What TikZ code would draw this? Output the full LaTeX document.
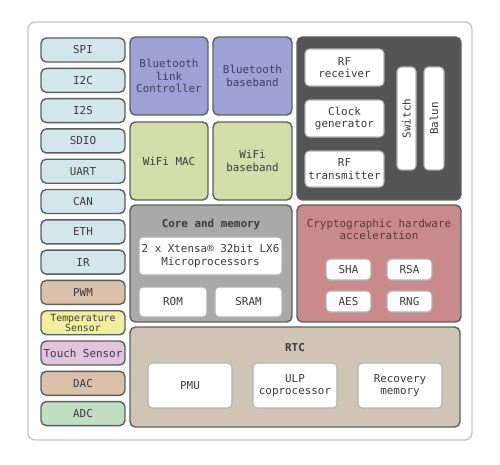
\documentclass[tikz,border=0pt]{standalone}
\usepackage{fontspec}
\setmonofont{DejaVu Sans Mono}
\definecolor{ifblue}{HTML}{D3E6EC}
\definecolor{iftan}{HTML}{DCC1AA}
\definecolor{ifyellow}{HTML}{F2EE9E}
\definecolor{ifpink}{HTML}{E2C4DE}
\definecolor{ifgreen}{HTML}{C0DEC2}
\definecolor{btblue}{HTML}{9DA1D4}
\definecolor{wifigreen}{HTML}{D3DDA9}
\definecolor{rfgray}{HTML}{555555}
\definecolor{coregray}{HTML}{A9A9A9}
\definecolor{cryptored}{HTML}{C98A8C}
\definecolor{cryptoink}{HTML}{5E3535}
\definecolor{btink}{HTML}{3A3F66}
\definecolor{rtctan}{HTML}{D0C4B5}
\definecolor{edge}{HTML}{5A5F60}
\definecolor{ink}{HTML}{3A3A3A}
\begin{document}
\begin{tikzpicture}[
    x=0.02cm, y=-0.02cm,
    font=\ttfamily\fontsize{6.2}{7}\selectfont,
    every node/.style={text=ink, align=center, inner sep=0pt},
    block/.style={draw=edge, line width=0.8pt, rounded corners=3pt},
    iface/.style={block, minimum width=1.68cm, minimum height=0.48cm},
    unit/.style={draw=gray!60, line width=0.6pt, fill=white, rounded corners=2.5pt}
]

% Background and chip frame
\useasboundingbox[fill=white] (0,0) rectangle (500,464);
\draw[draw=gray!45, line width=0.8pt, rounded corners=4pt, fill=white] (28,22) rectangle (472,440);

% Peripheral interfaces (left column)
\node[iface, fill=ifblue] (spi) at (83,50) {SPI};
\node[iface, fill=ifblue] (i2c) at (83,80.3) {I2C};
\node[iface, fill=ifblue] (i2s) at (83,110.6) {I2S};
\node[iface, fill=ifblue] (sdio) at (83,140.9) {SDIO};
\node[iface, fill=ifblue] (uart) at (83,171.2) {UART};
\node[iface, fill=ifblue] (can) at (83,201.5) {CAN};
\node[iface, fill=ifblue] (eth) at (83,231.8) {ETH};
\node[iface, fill=ifblue] (ir) at (83,262.1) {IR};
\node[iface, fill=iftan] (pwm) at (83,292.4) {PWM};
\node[iface, fill=ifyellow, font=\ttfamily\fontsize{5.6}{5.8}\selectfont] (temp) at (83,322.7) {Temperature\\Sensor};
\node[iface, fill=ifpink] (touch) at (83,353) {Touch Sensor};
\node[iface, fill=iftan] (dac) at (83,383.3) {DAC};
\node[iface, fill=ifgreen] (adc) at (83,413.6) {ADC};

% Bluetooth and WiFi
\node[block, fill=btblue, text=btink, minimum width=1.56cm, minimum height=1.56cm] (btlink) at (169,76) {Bluetooth\\link\\Controller};
\node[block, fill=btblue, text=btink, minimum width=1.58cm, minimum height=1.56cm] (btbase) at (252.5,76) {Bluetooth\\baseband};
\node[block, fill=wifigreen, minimum width=1.56cm, minimum height=1.56cm] (wifimac) at (169,161) {WiFi MAC};
\node[block, fill=wifigreen, minimum width=1.58cm, minimum height=1.56cm] (wifibase) at (252.5,161) {WiFi\\baseband};

% Radio
\node[block, fill=rfgray, minimum width=3.28cm, minimum height=3.26cm] (radio) at (379,118.5) {};
\node[unit, minimum width=1.58cm, minimum height=0.74cm] (rfrx) at (344.5,67.5) {RF\\receiver};
\node[unit, minimum width=1.58cm, minimum height=0.74cm] (clock) at (344.5,118.5) {Clock\\generator};
\node[unit, minimum width=1.58cm, minimum height=0.72cm] (rftx) at (344.5,169) {RF\\transmitter};
\node[unit, minimum width=0.38cm, minimum height=2.06cm] (switch) at (406.5,118.5) {};
\node[rotate=90] at (switch) {Switch};
\node[unit, minimum width=0.40cm, minimum height=2.06cm] (balun) at (434,118.5) {};
\node[rotate=90] at (balun) {Balun};

% Core and memory
\node[block, fill=coregray, minimum width=3.24cm, minimum height=2.34cm] (core) at (211,263.5) {};
\node[font=\ttfamily\bfseries\fontsize{6.2}{7}\selectfont] (coretitle) at (211,224) {Core and memory};
\node[unit, minimum width=2.86cm, minimum height=0.76cm] (xtensa) at (210.5,256) {2 x Xtensa\textregistered{} 32bit LX6\\Microprocessors};
\node[unit, minimum width=1.36cm, minimum height=0.60cm] (rom) at (173,302) {ROM};
\node[unit, minimum width=1.34cm, minimum height=0.60cm] (sram) at (248.5,302) {SRAM};

% Cryptographic hardware acceleration
\node[block, fill=cryptored, minimum width=3.28cm, minimum height=2.34cm] (crypto) at (379,263.5) {};
\node[text=cryptoink] (cryptotitle) at (379,229.5) {Cryptographic hardware\\acceleration};
\node[unit, minimum width=0.90cm, minimum height=0.42cm] (sha) at (348.5,269.5) {SHA};
\node[unit, minimum width=0.90cm, minimum height=0.42cm] (rsa) at (409.5,269.5) {RSA};
\node[unit, minimum width=0.90cm, minimum height=0.42cm] (aes) at (348.5,301.5) {AES};
\node[unit, minimum width=0.90cm, minimum height=0.42cm] (rng) at (409.5,301.5) {RNG};

% RTC
\node[block, fill=rtctan, minimum width=6.60cm, minimum height=2.00cm] (rtc) at (295,377) {};
\node[font=\ttfamily\bfseries\fontsize{6.2}{7}\selectfont] (rtctitle) at (295,348) {RTC};
\node[unit, minimum width=1.68cm, minimum height=0.90cm] (pmu) at (190,385.5) {PMU};
\node[unit, minimum width=1.68cm, minimum height=0.90cm] (ulp) at (295,385.5) {ULP\\coprocessor};
\node[unit, minimum width=1.68cm, minimum height=0.90cm] (recovery) at (400,385.5) {Recovery\\memory};

\end{tikzpicture}
\end{document}
